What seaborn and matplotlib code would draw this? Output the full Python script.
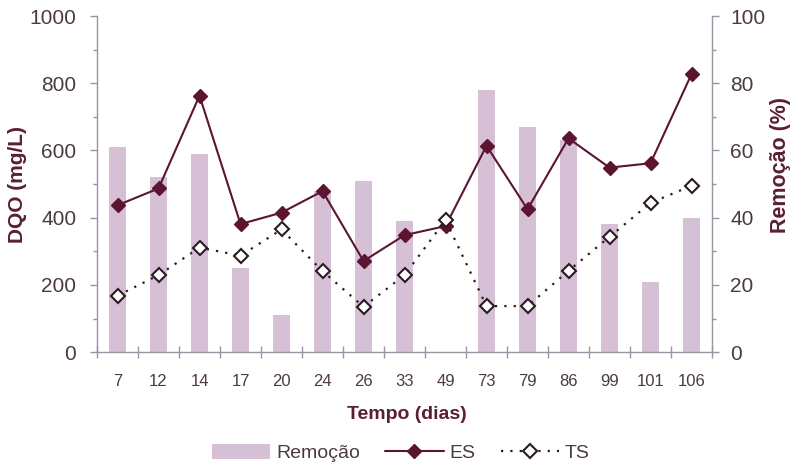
import matplotlib
matplotlib.use("Agg")
import matplotlib.pyplot as plt
import seaborn as sns
import pandas as pd
from matplotlib.ticker import MultipleLocator, FixedLocator
from matplotlib.patches import Patch
from matplotlib.lines import Line2D

# Sampling days (categorical axis)
dias = ["7", "12", "14", "17", "20", "24", "26", "33", "49", "73", "79", "86", "99", "101", "106"]
# COD removal efficiency (%)
remocao = [61, 52, 59, 25, 11, 48, 51, 39, 0, 78, 67, 63, 38, 21, 40]
# COD of the raw effluent (ES) and treated effluent (TS), mg/L
es = [437, 487, 763, 381, 415, 479, 271, 348, 375, 614, 425, 636, 549, 562, 827]
ts = [168, 229, 311, 287, 365, 241, 135, 229, 393, 137, 137, 242, 343, 444, 495]

bar_color = "#d5c0d5"
es_color = "#5b1530"
ts_edge = "#2b1a22"
tick_color = "#4b3b40"
label_color = "#5a1f35"
spine_color = "#9c93a3"

sns.set_theme(style="white")
plt.rcParams["font.family"] = ["Liberation Sans", "DejaVu Sans"]

df = pd.DataFrame({"dia": dias, "rem": remocao, "es": es, "ts": ts})

fig = plt.figure(figsize=(7.92, 4.72), dpi=100)
ax = fig.add_axes([0.1225, 0.254, 0.7765, 0.712])

# Removal bars on the percentage axis
sns.barplot(data=df, x="dia", y="rem", order=dias, color=bar_color,
            saturation=1, width=0.4, edgecolor="none", ax=ax)
ax.set_ylim(0, 100)

ax2 = ax.twinx()
# COD series on the mg/L axis
sns.pointplot(data=df, x="dia", y="es", order=dias, color=es_color,
              markers="D", linestyles="-", errorbar=None, ax=ax2,
              markersize=7.3, linewidth=1.5, markeredgewidth=1,
              markerfacecolor=es_color, markeredgecolor=es_color)
sns.pointplot(data=df, x="dia", y="ts", order=dias, color=ts_edge,
              markers="D", linestyles=":", errorbar=None, ax=ax2,
              markersize=7.0, linewidth=1.6, markeredgewidth=1.5,
              markerfacecolor="white", markeredgecolor=ts_edge)
ax2.lines[-1].set_linestyle((0, (1, 3.2)))
ax2.set_ylim(0, 1000)

# Swap sides: mg/L on the left, % on the right
ax.yaxis.tick_right()
ax.yaxis.set_label_position("right")
ax2.yaxis.tick_left()
ax2.yaxis.set_label_position("left")

ax.yaxis.set_major_locator(MultipleLocator(20))
ax.yaxis.set_minor_locator(MultipleLocator(10))
ax2.yaxis.set_major_locator(MultipleLocator(200))
ax2.yaxis.set_minor_locator(MultipleLocator(100))

n = len(dias)
ax.set_xlim(-0.5, n - 0.5)
ax.xaxis.set_minor_locator(FixedLocator([i - 0.5 for i in range(n + 1)]))

for a in (ax, ax2):
    a.spines["top"].set_visible(False)
    for s in ("left", "right", "bottom"):
        a.spines[s].set_color(spine_color)
        a.spines[s].set_linewidth(1.0)
ax2.spines["bottom"].set_visible(False)
ax.spines["left"].set_visible(False)
ax2.spines["right"].set_visible(False)

ax.tick_params(axis="x", which="major", length=0, pad=16, labelsize=12,
               labelcolor=tick_color)
ax.tick_params(axis="x", which="minor", length=8, width=1,
               direction="inout", color=spine_color, bottom=True)
ax.tick_params(axis="y", which="major", length=5, width=1, direction="out",
               color=spine_color, labelsize=15, pad=8, labelcolor=tick_color,
               right=True, left=False, labelright=True, labelleft=False)
ax.tick_params(axis="y", which="minor", length=3, width=1, direction="out",
               color=spine_color, right=True, left=False)
ax2.tick_params(axis="y", which="major", length=5, width=1, direction="out",
                color=spine_color, labelsize=15, pad=10, labelcolor=tick_color,
                left=True, right=False, labelleft=True, labelright=False)
ax2.tick_params(axis="y", which="minor", length=3, width=1, direction="out",
                color=spine_color, left=True, right=False)

ax2.set_ylabel("DQO (mg/L)", fontsize=15, fontweight="bold", color=label_color)
ax2.yaxis.set_label_coords(-0.114, 0.5)
ax.set_ylabel("Remoção (%)", fontsize=15.5, fontweight="bold", color=label_color,
              rotation=90)
ax.yaxis.set_label_coords(1.094, 0.556)
ax.set_xlabel("Tempo (dias)", fontsize=14, fontweight="bold", color=label_color)
ax.xaxis.label.set_va("center")
ax.xaxis.set_label_coords(0.504, -0.185)

handles = [
    Patch(facecolor=bar_color, edgecolor="none"),
    Line2D([], [], color=es_color, lw=1.5, marker="D", markersize=7.3,
           markerfacecolor=es_color, markeredgecolor=es_color),
    Line2D([], [], color=ts_edge, lw=1.6, linestyle=(0, (1, 3.2)), marker="D",
           markersize=7.0, markerfacecolor="white", markeredgecolor=ts_edge,
           markeredgewidth=1.5),
]
leg = fig.legend(handles, ["Remoção", "ES", "TS"], loc="center",
                 bbox_to_anchor=(0.506, 0.040), ncol=3, frameon=False,
                 fontsize=14, handlelength=3.0, handleheight=0.8,
                 handletextpad=0.3, columnspacing=1.3)
for t in leg.get_texts():
    t.set_color(tick_color)

fig.savefig("out.png", dpi=100)
